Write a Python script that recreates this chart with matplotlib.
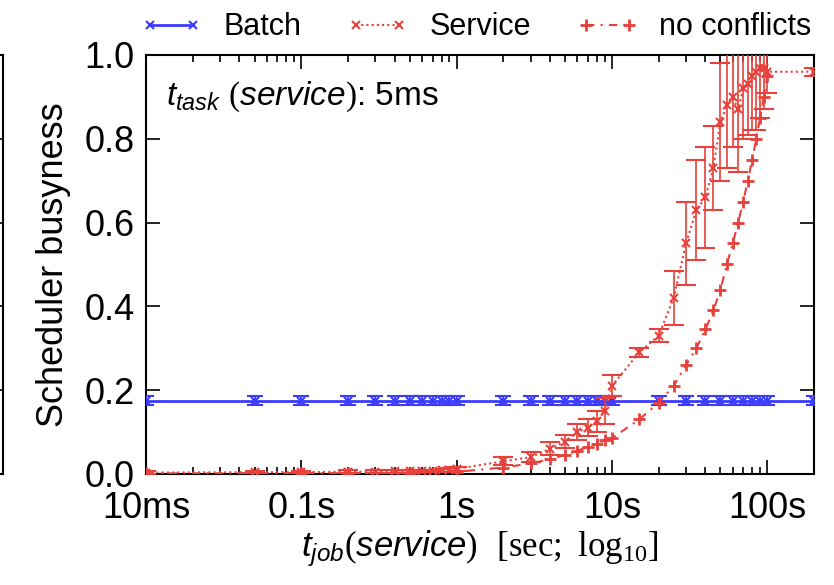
import matplotlib
matplotlib.use("Agg")
import matplotlib.pyplot as plt
from matplotlib.lines import Line2D
from matplotlib.ticker import LogLocator, NullFormatter

plt.rcParams["font.family"] = ["Liberation Sans", "DejaVu Sans"]
plt.rcParams["mathtext.fontset"] = "custom"
plt.rcParams["mathtext.it"] = "Liberation Sans:italic"
plt.rcParams["mathtext.rm"] = "Liberation Serif"

# === dados ===
batch_x = [0.01, 0.05, 0.1, 0.2, 0.3, 0.4, 0.5, 0.6, 0.7, 0.8, 0.9, 1,
           2, 3, 4, 5, 6, 7, 8, 9, 10, 20, 30, 40, 50, 60, 70, 80, 90, 100, 200]
batch_y = [0.175] * len(batch_x)
batch_err = [0.01] * len(batch_x)

service_x = [0.01, 0.05, 0.1, 0.2, 0.3, 0.4, 0.5, 0.6, 0.7, 0.8, 0.9, 1,
             2, 3, 4, 5, 6, 7, 8, 9, 10, 15, 20, 25, 30, 35, 40, 45, 50,
             55, 60, 65, 70, 75, 80, 85, 90, 95, 100, 200]
service_y = [0.003, 0.004, 0.004, 0.005, 0.005, 0.006, 0.006, 0.007, 0.007, 0.008, 0.009, 0.012,
             0.03, 0.04, 0.06, 0.077, 0.1, 0.11, 0.125, 0.15, 0.21, 0.29, 0.33, 0.42, 0.55,
             0.63, 0.66, 0.73, 0.84, 0.88, 0.9, 0.87, 0.92, 0.93, 0.95, 0.96, 0.97, 0.97, 0.96, 0.96]
service_err = [0.003, 0.003, 0.003, 0.003, 0.003, 0.003, 0.003, 0.003, 0.003, 0.004, 0.004, 0.005,
               0.01, 0.012, 0.015, 0.015, 0.02, 0.02, 0.025, 0.03, 0.025, 0.01, 0.015, 0.065, 0.1,
               0.12, 0.12, 0.1, 0.14, 0.15, 0.12, 0.15, 0.12, 0.12, 0.13, 0.14, 0.12, 0.1, 0.05, 0.01]

noconf_x = [0.01, 0.1, 0.2, 0.5, 1, 2, 3, 4, 5, 6, 7, 8, 9, 10, 15, 20, 25, 30, 35,
            40, 45, 50, 55, 60, 65, 70, 75, 80, 85, 90, 95, 100]
noconf_y = [0.001, 0.002, 0.002, 0.003, 0.005, 0.015, 0.025, 0.035, 0.045, 0.055, 0.065,
            0.072, 0.08, 0.085, 0.13, 0.17, 0.21, 0.26, 0.30, 0.345, 0.39, 0.44, 0.5,
            0.55, 0.6, 0.65, 0.7, 0.75, 0.8, 0.85, 0.9, 0.95]

xticks = [0.01, 0.1, 1, 10, 100]
xtick_labels = ["10ms", "0.1s", "1s", "10s", "100s"]
yticks = [0.0, 0.2, 0.4, 0.6, 0.8, 1.0]

azul = "#3b3bff"
vermelho = "#e8403a"
estilo_service = (0, (1, 1.5))
estilo_noconf = (0, (4, 3, 1, 3))

fig = plt.figure(figsize=(8.34, 5.85), dpi=100)
ax = fig.add_axes([0.175, 0.19, 0.801, 0.716])

ax.errorbar(batch_x, batch_y, yerr=batch_err, color=azul, marker="x", ms=6, mew=1.5,
            lw=2, capsize=6, elinewidth=1.3, zorder=3)
ax.errorbar(service_x, service_y, yerr=service_err, color=vermelho, marker="x", ms=6, mew=1.5,
            lw=1.5, ls=estilo_service, capsize=7, elinewidth=1.2, zorder=4)
ax.plot(noconf_x, noconf_y, color=vermelho, marker="+", ms=8, mew=2,
        lw=1.5, ls=estilo_noconf, zorder=4)

ax.set_xscale("log")
ax.set_xlim(0.01, 200)
ax.set_ylim(0, 1.0)
ax.set_xticks(xticks)
ax.set_xticklabels(xtick_labels)
ax.xaxis.set_minor_locator(LogLocator(base=10, subs=range(2, 10), numticks=20))
ax.xaxis.set_minor_formatter(NullFormatter())
ax.set_yticks(yticks)
ax.set_yticklabels([f"{v:.1f}" for v in yticks])

ax.tick_params(which="both", direction="in", top=True, right=True, labelsize=26, width=1.2)
ax.tick_params(which="major", length=10)
ax.tick_params(axis="x", which="major", pad=12)
ax.tick_params(axis="y", which="major", pad=8)
ax.tick_params(which="minor", length=5)
for s in ax.spines.values():
    s.set_linewidth(1.5)

ax.set_ylabel("Scheduler busyness", fontsize=26, labelpad=10)
ax.set_xlabel(r"$\mathit{t_{job}(service)}$  $\mathrm{[sec;\ log_{10}]}$", fontsize=25, labelpad=2)
ax.text(0.03, 0.9, r"$\mathit{t_{task}\ (service)}$: 5ms", transform=ax.transAxes,
        fontsize=24, va="center", ha="left")

# === legenda ===
handles = [
    Line2D([], [], color=azul, marker="x", ms=6, mew=1.5, lw=2),
    Line2D([], [], color=vermelho, marker="x", ms=6, mew=1.5, lw=1.5, ls=estilo_service),
    Line2D([], [], color=vermelho, marker="+", ms=8, mew=2, lw=1.5, ls=estilo_noconf),
]
fig.legend(handles, ["Batch", "Service", "no conflicts"], loc="upper right",
           bbox_to_anchor=(0.995, 1.01), ncol=3, frameon=False, fontsize=22,
           numpoints=2, handlelength=2.0, handletextpad=0.7, columnspacing=1.5,
           borderaxespad=0.2)

# pedaco do painel vizinho na esquerda
ax2 = fig.add_axes([-0.3, 0.19, 0.3 + 3 / 834, 0.716])
ax2.set_xlim(0, 1)
ax2.set_ylim(0, 1)
ax2.set_yticks(yticks)
ax2.set_yticklabels([])
ax2.set_xticks([])
ax2.tick_params(direction="in", right=True, left=False, length=10, width=1.2)
for s in ax2.spines.values():
    s.set_linewidth(1.5)

fig.savefig("out.png", dpi=100)
